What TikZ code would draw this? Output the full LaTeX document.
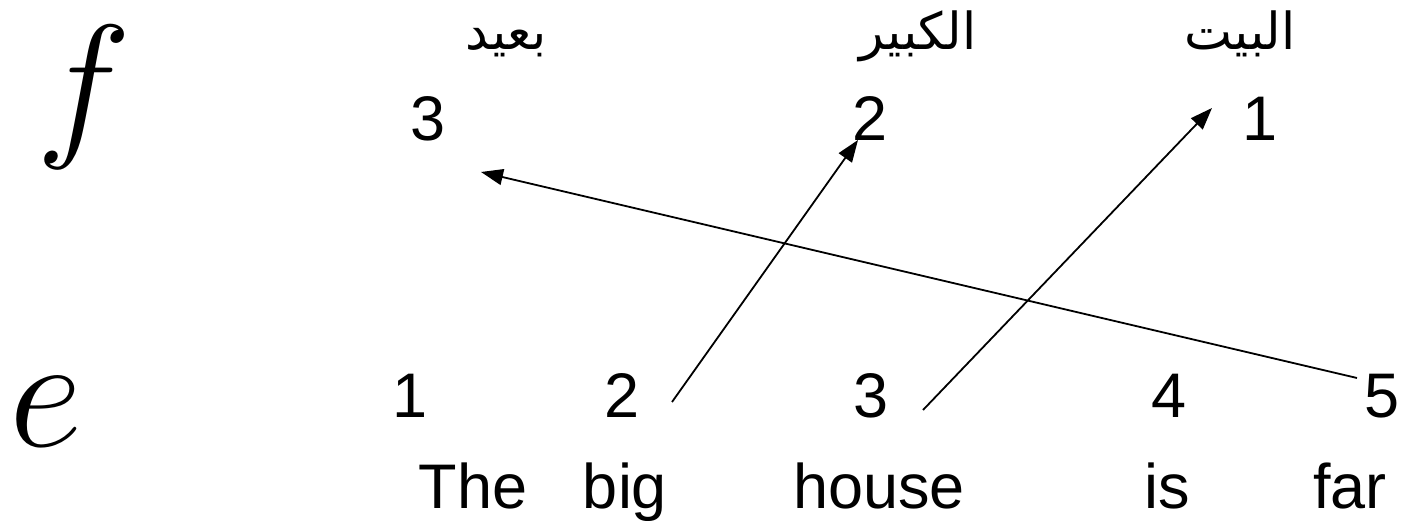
\RequirePackage{fix-cm}
\documentclass[tikz,border=0pt]{standalone}
\usepackage{fontspec}
\setmainfont{Liberation Sans}
\newfontfamily\arabicfont[Script=Arabic]{DejaVu Sans}
\TeXXeTstate=1
\usetikzlibrary{arrows.meta}
\begin{document}
\begin{tikzpicture}[x=1pt,y=-1pt,
  lbl/.style={inner sep=0pt,anchor=base,font=\fontsize{63}{76}\selectfont},
  ar/.style={inner sep=0pt,anchor=base,font=\arabicfont\fontsize{51}{60}\selectfont},
  var/.style={inner sep=0pt,font=\fontsize{161}{190}\selectfont},
  link/.style={line width=1.8pt,-{Triangle[length=22pt,width=16pt]}}]
\useasboundingbox (0,0) rectangle (1407,521);
% variables
\node[var] (vf) at (84,97) {$f$};
\node[var] (ve) at (46,412) {$e$};
% Arabic words
\node[ar] (w3) at (506,50) {\beginR بعيد\endR};
\node[ar] (w2) at (918,50) {\beginR الكبير\endR};
\node[ar] (w1) at (1240,50) {\beginR البيت\endR};
% f positions
\node[lbl] (f3) at (428,141) {3};
\node[lbl] (f2) at (870,141) {2};
\node[lbl] (f1) at (1260,141) {1};
% e positions
\node[lbl] (e1) at (410,417) {1};
\node[lbl] (e2) at (622,417) {2};
\node[lbl] (e3) at (871,417) {3};
\node[lbl] (e4) at (1169,417) {4};
\node[lbl] (e5) at (1382,417) {5};
% English words
\node[lbl] (t1) at (473,508) {The};
\node[lbl] (t2) at (625,508) {big};
\node[lbl] (t3) at (879,508) {house};
\node[lbl] (t4) at (1167,508) {is};
\node[lbl] (t5) at (1350,508) {far};
% connector ends
\coordinate (s2) at (672,402);
\coordinate (d2) at (858,140);
\coordinate (s3) at (923,410);
\coordinate (d1) at (1212,108);
\coordinate (s5) at (1357,378);
\coordinate (d3) at (481,172);
\draw[link] (s2) -- (d2);
\draw[link] (s3) -- (d1);
\draw[link] (s5) -- (d3);
\end{tikzpicture}
\end{document}
